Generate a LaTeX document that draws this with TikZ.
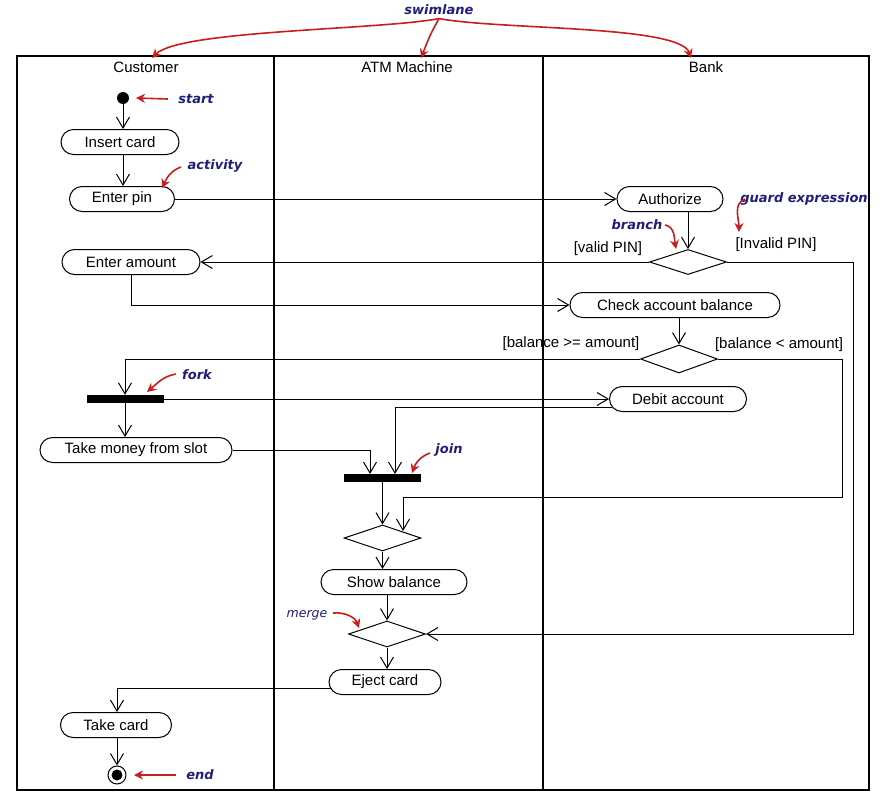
\documentclass[tikz,border=0pt]{standalone}
\usepackage{fontspec}
\setmainfont{Liberation Sans}
\newfontfamily\notefont{DejaVu Sans}
\usetikzlibrary{shapes.misc,shapes.geometric,arrows.meta}
\definecolor{navy}{HTML}{1F1F78}
\definecolor{annred}{HTML}{C81E1E}
\begin{document}
\begin{tikzpicture}[x=1pt,y=-1pt,
  txt/.style={font=\fontsize{15}{18}\selectfont},
  act/.style={rounded rectangle, draw, line width=1pt, minimum height=25pt, inner sep=0pt, txt},
  dec/.style={diamond, draw, line width=1pt, inner sep=0pt, minimum width=77pt, minimum height=26pt},
  bar/.style={fill=black, inner sep=0pt, minimum width=77pt, minimum height=8pt},
  flow/.style={line width=1pt, -{Straight Barb[length=11pt,width=13pt,line width=1pt]}},
  note/.style={font=\notefont\bfseries\itshape\fontsize{13}{15}\selectfont, text=navy},
  mnote/.style={font=\notefont\itshape\fontsize{12.5}{14}\selectfont, text=navy},
  ann/.style={annred, line width=1.6pt, -{Stealth[length=9pt,width=9pt]}}
]
\useasboundingbox (0,0) rectangle (881,800);
\fill[white] (0,0) rectangle (881,800);
% frame and lanes
\draw[line width=1.2pt] (17,56) rectangle (869,790);
\draw[line width=1.2pt] (274,56) -- (274,790);
\draw[line width=1.2pt] (543,56) -- (543,790);
\node[txt] (hc) at (146,67) {Customer};
\node[txt] (ha) at (407,67) {ATM Machine};
\node[txt] (hb) at (706,67) {Bank};
% nodes
\node[circle, fill, inner sep=0pt, minimum size=12pt] (start) at (123,98) {};
\node[act, minimum width=118pt] (insert) at (120,142) {Insert card};
\node[act, minimum width=105pt] (pin) at (122,199) {Enter pin};
\node[act, minimum width=138pt] (amount) at (131,262) {Enter amount};
\node[act, minimum width=106pt] (auth) at (670,199) {Authorize};
\node[dec, minimum height=25pt] (d1) at (688,262) {};
\node[act, minimum width=210pt] (check) at (675,305) {Check account balance};
\node[dec, minimum height=28pt] (d2) at (679,359) {};
\node[bar] (fork) at (125,399) {};
\node[act, minimum width=137pt] (debit) at (678,399) {Debit account};
\node[act, minimum width=192pt] (money) at (136,450) {Take money from slot};
\node[bar] (join) at (382.5,478) {};
\node[dec] (d3) at (382.5,538) {};
\node[act, minimum width=146pt] (show) at (394,582) {Show balance};
\node[dec] (merge) at (387,634) {};
\node[act, minimum width=112pt] (eject) at (385,682) {Eject card};
\node[act, minimum width=111pt] (takecard) at (116,725) {Take card};
\node[circle, draw, line width=1pt, inner sep=0pt, minimum size=18pt] (end) at (117,775) {};
\fill (end.center) circle (5.5);
% guards
\node[txt] (gv) at (608,249) {[valid PIN]};
\node[txt] (gi) at (776,245) {[Invalid PIN]};
\node[txt] (gb1) at (571,344) {[balance >= amount]};
\node[txt] (gb2) at (779,345) {[balance < amount]};
% coordinates
\coordinate (c1) at (853,634);
\coordinate (c2) at (842,497);
\coordinate (j2) at (403,531);
\coordinate (j1) at (395,474);
\coordinate (j0) at (370,474);
% flows
\draw[flow] (start) -- (start |- insert.north);
\draw[flow] (start |- insert.south) -- (start |- pin.north);
\draw[flow] (pin.east) -- (auth.west);
\draw[flow] (auth.south -| d1.north) -- (d1.north);
\draw[flow] (d1.west) -- (amount.east);
\draw[flow] (d1.east) -| (c1) -- (merge.east);
\draw[flow] (amount.south) |- (check.west);
\draw[flow] (check.south -| d2.north) -- (d2.north);
\draw[flow] (d2.west) -| (fork.north);
\draw[flow] (d2.east) -| (c2) -| (j2);
\draw[flow] (fork.east) -- (debit.west);
\draw[flow] (fork.south) -- (fork.south |- money.north);
\draw[flow] ([yshift=-8pt,xshift=3pt]debit.west) -| (j1);
\draw[flow] (money.east) -| (j0);
\draw[flow] (join.south) -- (d3.north);
\draw[flow] (d3.south) -- (d3.south |- show.north);
\draw[flow] (show.south -| merge.north) -- (merge.north);
\draw[flow] (merge.south) -- (merge.south |- eject.north);
\draw[flow] ([yshift=-6pt,xshift=2pt]eject.west) -| (end |- takecard.north);
\draw[flow] (end |- takecard.south) -- (end.north);
% annotations
\node[note] (nsw) at (439,10) {swimlane};
\draw[ann] (nsw.south) .. controls (380,30) and (180,30) .. (152,58);
\draw[ann] (nsw.south) .. controls (430,35) .. (421,58);
\draw[ann] (nsw.south) .. controls (500,30) and (680,25) .. (691,58);
\node[note] (nst) at (196,99) {start};
\draw[ann] ([xshift=-7pt]nst.west) -- (136,98);
\node[note] (nact) at (215,166) {activity};
\draw[ann] (181,167) to[out=200,in=65] (162,188);
\node[note] (nbr) at (637,225) {branch};
\draw[ann] (665,225) to[out=-10,in=100] (676,249);
\node[note] (ngu) at (804,199) {guard expression};
\draw[ann] (745,199) to[out=200,in=90] (739,232);
\node[note] (nfo) at (197,375) {fork};
\draw[ann] (176,374) to[out=190,in=40] (147,392);
\node[note] (njo) at (449,450) {join};
\draw[ann] (430,453) to[out=200,in=70] (412,473);
\node[mnote] (nme) at (307,615) {merge};
\draw[ann] (333,613) to[out=5,in=110] (359,628);
\node[note] (nen) at (200,775) {end};
\draw[ann] ([xshift=-7pt]nen.west) -- (134,775);
\end{tikzpicture}
\end{document}
